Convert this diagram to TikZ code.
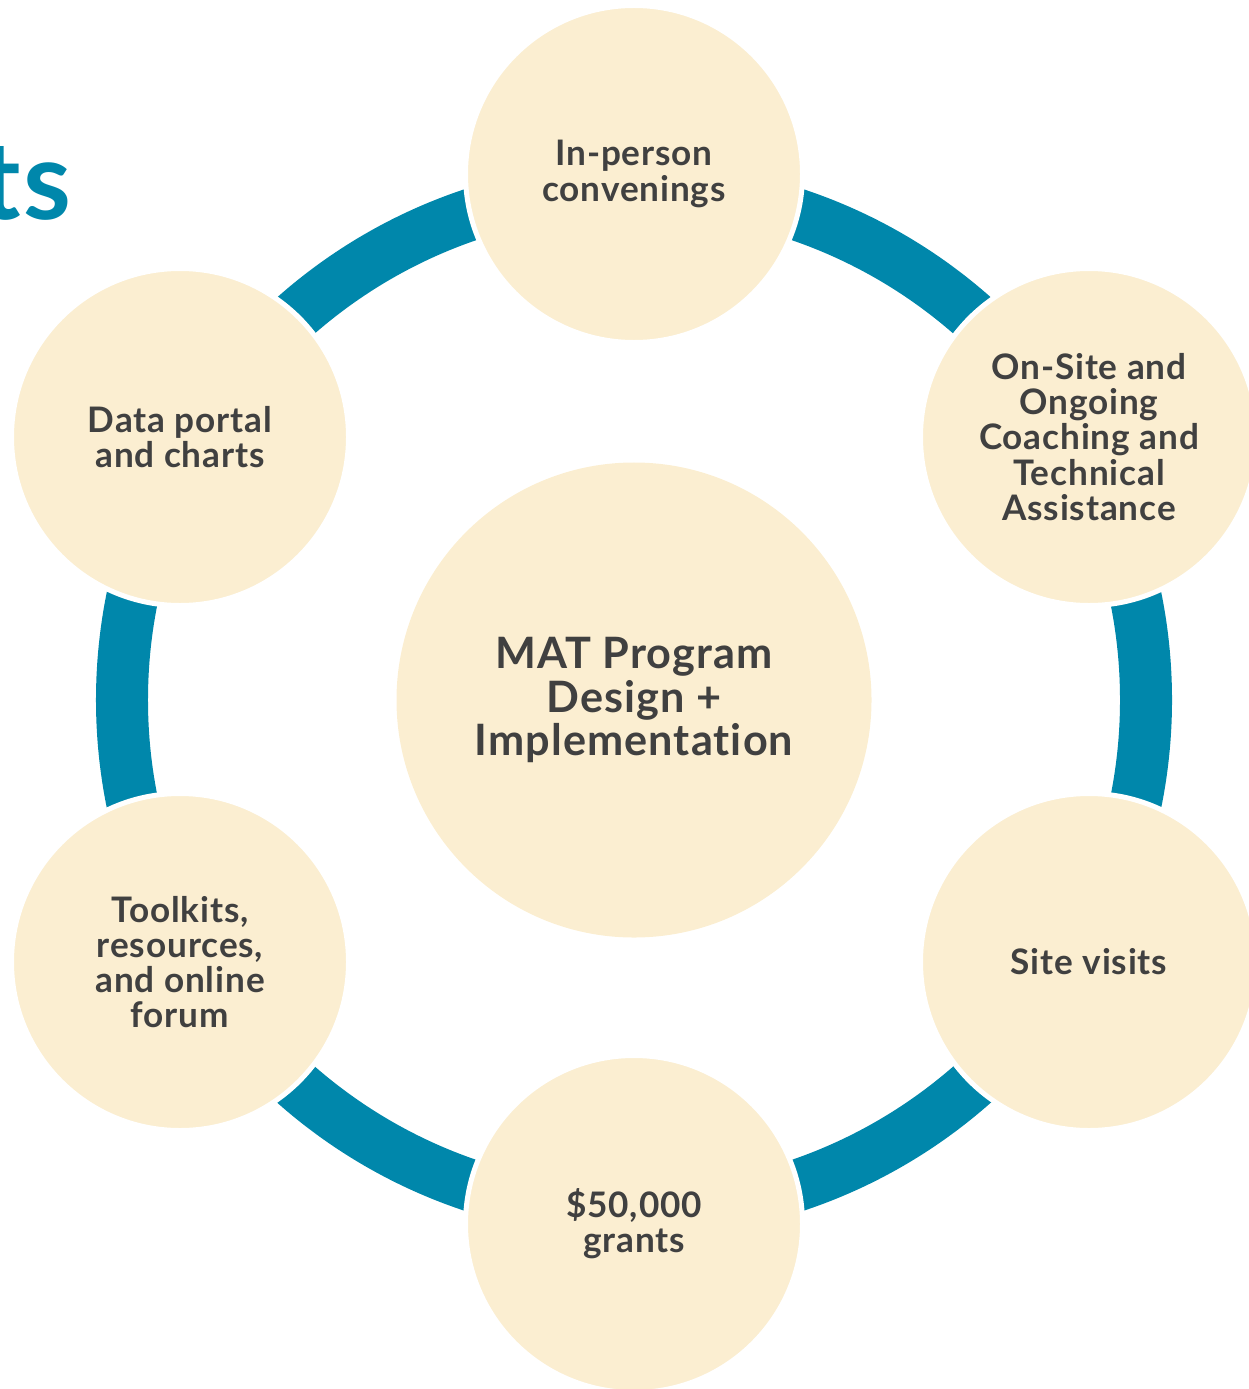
\documentclass[tikz,border=0pt]{standalone}
\usepackage{fontspec}
\setmainfont{Lato}[LetterSpace=2.5,Ligatures=NoCommon]
\usepackage{tikz}
\usetikzlibrary{positioning}
\definecolor{ringcolor}{HTML}{0087AB}
\definecolor{bubblecolor}{HTML}{FBEED1}
\definecolor{labelcolor}{HTML}{404040}
\tikzset{
  bubble/.style={circle, fill=bubblecolor, draw=white, line width=1mm,
    minimum size=67.4mm, inner sep=0pt, align=center, text=labelcolor,
    font=\fontsize{20}{20}\selectfont\bfseries},
  hub/.style={circle, fill=bubblecolor, minimum size=95mm, inner sep=0pt,
    align=center, text=labelcolor, font=\fontsize{24.6}{24.5}\selectfont\bfseries},
  ring/.style={draw=ringcolor, line width=10.4mm},
  headline/.style={text=ringcolor, inner sep=0pt, font=\fontsize{62}{62}\selectfont\bfseries}
}
\begin{document}
\begin{tikzpicture}[x=0.2mm,y=-0.2mm]
\useasboundingbox (0,0) rectangle (1249,1389);
% heading, cut at the left edge
\node[headline, anchor=base east] (head) at (72,220) {ts};
% hub and ring
\node[hub] (hub) at (634,700) {MAT Program\\Design +\\Implementation};
\draw[ring] (hub.center) circle[radius=102.4mm];
% bubbles on the ring
\node[bubble] (convene) at (634,174) {In-person\\convenings};
\node[bubble] (coach) at (1089,437) {On-Site and\\Ongoing\\Coaching and\\Technical\\Assistance};
\node[bubble] (visits) at (1089,962) {Site visits};
\node[bubble] (grants) at (634,1224) {\$50,000\\grants};
\node[bubble] (toolkits) at (180,962) {Toolkits,\\resources,\\and online\\forum};
\node[bubble] (portal) at (180,437) {Data portal\\and charts};
\end{tikzpicture}
\end{document}
